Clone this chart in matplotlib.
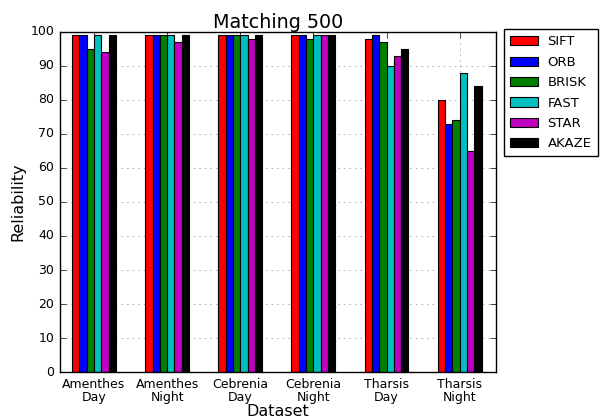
import matplotlib
matplotlib.use("Agg")
import matplotlib.pyplot as plt
import numpy as np

plt.style.use("classic")

categories = ["Amenthes\nDay", "Amenthes\nNight", "Cebrenia\nDay", "Cebrenia\nNight", "Tharsis\nDay", "Tharsis\nNight"]
series_names = ["SIFT", "ORB", "BRISK", "FAST", "STAR", "AKAZE"]
sift = [99, 99, 99, 99, 98, 80]
orb = [99, 99, 99, 99, 99, 73]
brisk = [95, 99, 99, 98, 97, 74]
fast = [99, 99, 99, 99, 90, 88]
star = [94, 97, 98, 99, 93, 65]
akaze = [99, 99, 99, 99, 95, 84]
values = [sift, orb, brisk, fast, star, akaze]
colors = ["#ff0000", "#0000ff", "#008000", "#00bfbf", "#bf00bf", "#000000"]

fig = plt.figure(figsize=(6.0, 4.19), dpi=100)
fig.patch.set_facecolor("white")
ax = fig.add_axes([0.100, 0.112, 0.727, 0.812])

x = np.arange(len(categories))
w = 0.1
for k, (name, vals, c) in enumerate(zip(series_names, values, colors)):
    ax.bar(x - 0.3 + k * w, vals, w, align="edge", color=c, edgecolor="black", linewidth=0.8, label=name)

ax.set_xticks(x)
ax.set_xticklabels(categories, fontsize=9, linespacing=1.0)
ax.set_xlim(-0.465, 5.5)
ax.set_ylim(0, 100)
ax.set_yticks(range(0, 101, 10))
ax.tick_params(axis="y", labelsize=9)
ax.tick_params(axis="x", pad=4)
ax.grid(True, linestyle=":", color="gray")
ax.set_axisbelow(True)
ax.set_title("Matching 500", fontsize=13.8, pad=3)
ax.set_xlabel("Dataset", fontsize=11.5, labelpad=0)
ax.set_ylabel("Reliability", fontsize=11.5, labelpad=4)

fig.text(0.513, 1.022, "(a)", ha="center", va="center", fontsize=12)

leg = ax.legend(loc="upper left", bbox_to_anchor=(1.018, 1.007), fontsize=9.5, borderaxespad=0.0,
                handlelength=2.1, handletextpad=0.75, labelspacing=0.56, fancybox=False, borderpad=0.45)
leg.get_frame().set_edgecolor("black")

fig.savefig("out.png", dpi=100, facecolor="white")
